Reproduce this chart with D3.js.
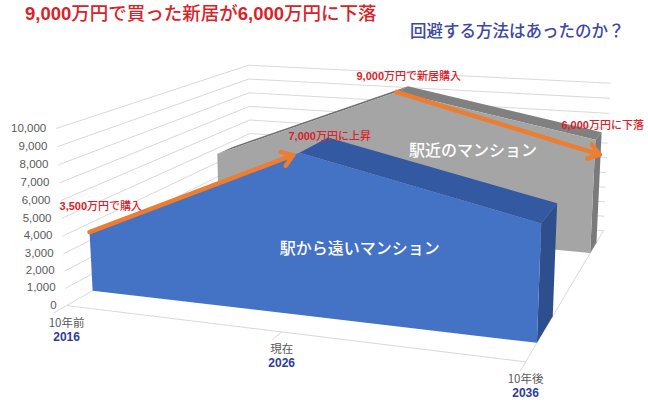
<!DOCTYPE html>
<html>
<head>
<meta charset="utf-8">
<script src="https://cdn.jsdelivr.net/npm/d3@7"></script>
<style>
  body { margin: 0; background: #fff; }
  svg { display: block; }
</style>
</head>
<body>
<script>
// data
var categories = ["10年前", "現在", "10年後"];
var years = ["2016", "2026", "2036"];
var farValues = [3500, 9000, 6300];    // 駅から遠いマンション
var nearValues = [4600, 9600, 7300];   // 駅近のマンション
var yTicks = d3.range(0, 10001, 1000);

var W = 648, H = 410;
var jp = "'Noto Sans CJK JP', sans-serif";
var num = "'Liberation Sans', Arial, sans-serif";

// world scales (box is 0..1 in every direction)
var x = d3.scalePoint().domain(categories).range([0, 1]);
var y = d3.scaleLinear().domain([0, 10000]).range([0, 1]);
var depth = { far: [0.11, 0.28], near: [0.78, 0.88] };

// camera: fit a projective map from the box corners as they sit in the picture
var calib = [
  [[0, 0, 0], [67, 304]],
  [[0.5, 0, 0], [283, 332]],
  [[1, 0, 0], [525, 363]],
  [[0, 0, 1], [250, 201]],
  [[1, 0, 1], [604, 230]],
  [[0, 1, 0], [55, 129]],
  [[0, 1, 1], [250, 65]],
  [[1, 1, 1], [610, 83]]
];

function gauss(M, r) {
  var n = r.length, A = M.map(function(row, i) { return row.concat([r[i]]); });
  for (var c = 0; c < n; c++) {
    var p = c;
    for (var i = c + 1; i < n; i++) if (Math.abs(A[i][c]) > Math.abs(A[p][c])) p = i;
    var t = A[c]; A[c] = A[p]; A[p] = t;
    for (var i = c + 1; i < n; i++) {
      var f = A[i][c] / A[c][c];
      for (var j = c; j <= n; j++) A[i][j] -= f * A[c][j];
    }
  }
  var s = new Array(n);
  for (var i = n - 1; i >= 0; i--) {
    var v = A[i][n];
    for (var j = i + 1; j < n; j++) v -= A[i][j] * s[j];
    s[i] = v / A[i][i];
  }
  return s;
}

function fitCamera(c) {
  var rows = [], rhs = [];
  c.forEach(function(d) {
    var X = d[0][0], Y = d[0][1], Z = d[0][2], u = d[1][0], v = d[1][1];
    rows.push([X, Y, Z, 1, 0, 0, 0, 0, -u * X, -u * Y, -u * Z]); rhs.push(u);
    rows.push([0, 0, 0, 0, X, Y, Z, 1, -v * X, -v * Y, -v * Z]); rhs.push(v);
  });
  var M = [], r = [];
  for (var i = 0; i < 11; i++) {
    M[i] = [];
    for (var j = 0; j < 11; j++) M[i][j] = d3.sum(rows, function(row) { return row[i] * row[j]; });
    r[i] = d3.sum(rows, function(row, k) { return row[i] * rhs[k]; });
  }
  return gauss(M, r);
}

var cam = fitCamera(calib);
function proj(X, Y, Z) {
  var w = cam[8] * X + cam[9] * Y + cam[10] * Z + 1;
  return [(cam[0] * X + cam[1] * Y + cam[2] * Z + cam[3]) / w,
          (cam[4] * X + cam[5] * Y + cam[6] * Z + cam[7]) / w];
}
// category, value, depth -> screen
function P(cat, val, zw) { return proj(typeof cat === "string" ? x(cat) : cat, y(val), zw); }

var line = d3.line();
function poly(pts) { return line(pts) + "Z"; }

var svg = d3.select("body").append("svg")
  .attr("width", W).attr("height", H);

// walls gridlines
var grid = svg.append("g").attr("fill", "none").attr("stroke", "#d9d9d9").attr("stroke-width", 1);
grid.selectAll("path.g")
  .data(yTicks)
  .enter().append("path")
  .attr("d", function(t) {
    return line([proj(0, y(t), 0), proj(0, y(t), 1), proj(1, y(t), 1)]);
  });

// floor edges + ticks
grid.append("path").attr("d", line([proj(0, 0, 0), proj(1, 0, 0), proj(1, 0, 1)]));
grid.selectAll("path.tick")
  .data(categories)
  .enter().append("path")
  .attr("d", function(c) { return line([proj(x(c), 0, 0), proj(x(c), 0, -0.05)]); });

// y labels
svg.append("g").selectAll("text")
  .data(yTicks)
  .enter().append("text")
  .attr("x", function(t) { return proj(0, y(t), 0)[0] - 10; })
  .attr("y", function(t) { return proj(0, y(t), 0)[1]; })
  .attr("text-anchor", "end")
  .attr("dominant-baseline", "middle")
  .style("font-family", num).style("font-size", "11.5px").style("fill", "#595959")
  .text(d3.format(","));

// category labels
var cl = svg.append("g").selectAll("g")
  .data(categories)
  .enter().append("g")
  .attr("transform", function(c) { var p = proj(x(c), 0, 0); return "translate(" + p[0] + "," + p[1] + ")"; });
cl.append("text")
  .attr("y", 18).attr("text-anchor", "middle").attr("dominant-baseline", "middle")
  .style("font-family", jp).style("font-size", "11.5px").style("fill", "#595959")
  .text(function(c) { return c; });
cl.append("text")
  .attr("y", 32).attr("text-anchor", "middle").attr("dominant-baseline", "middle")
  .style("font-family", num).style("font-size", "12px").style("font-weight", "bold").style("fill", "#2e3d98")
  .text(function(c, i) { return years[i]; });

// 3D area series
function drawSeries(vals, zr, col) {
  var g = svg.append("g");
  var z0 = zr[0], z1 = zr[1];
  var n = vals.length;
  for (var i = 0; i < n - 1; i++) {
    var c = vals[i + 1] > vals[i] ? col.topUp : col.topDown;
    if (!c) continue;
    g.append("path")
      .attr("d", poly([P(categories[i], vals[i], z0), P(categories[i + 1], vals[i + 1], z0),
                       P(categories[i + 1], vals[i + 1], z1), P(categories[i], vals[i], z1)]))
      .attr("fill", c);
  }
  var last = categories[n - 1];
  g.append("path")
    .attr("d", poly([P(last, 0, z0), P(last, vals[n - 1], z0), P(last, vals[n - 1], z1), P(last, 0, z1)]))
    .attr("fill", col.side);
  var front = [P(categories[0], 0, z0)]
    .concat(vals.map(function(v, i) { return P(categories[i], v, z0); }))
    .concat([P(last, 0, z0)]);
  g.append("path").attr("d", poly(front)).attr("fill", col.front);
  return g;
}

var gNear = drawSeries(nearValues, depth.near, { front: "#a5a5a5", topUp: "#6f6f6f", topDown: "#808080", side: "#7a7a7a" });
// the rising top of the front series sits under the arrow, so it is not drawn
var gFar = drawSeries(farValues, depth.far, { front: "#4472c4", topUp: null, topDown: "#3459a3", side: "#2d4f8e" });

// series names
function seriesLabel(txt, cx, val, zw, size) {
  var p = proj(cx, y(val), zw);
  svg.append("text")
    .attr("x", p[0]).attr("y", p[1])
    .attr("text-anchor", "middle").attr("dominant-baseline", "middle")
    .style("font-family", jp).style("font-size", size + "px").style("font-weight", 500).style("fill", "#fff")
    .text(txt);
}
seriesLabel("駅近のマンション", 0.7, 6000, depth.near[0], 16);
seriesLabel("駅から遠いマンション", 0.63, 4000, depth.far[0], 16);

// arrows
var orange = "#ed7d31";
function arrow(a, b) {
  var ang = Math.atan2(b[1] - a[1], b[0] - a[0]), L = 13, s = 0.6;
  var h1 = [b[0] - L * Math.cos(ang - s), b[1] - L * Math.sin(ang - s)];
  var h2 = [b[0] - L * Math.cos(ang + s), b[1] - L * Math.sin(ang + s)];
  var g = svg.append("g").attr("fill", "none").attr("stroke", orange)
    .attr("stroke-width", 4.5).attr("stroke-linecap", "round").attr("stroke-linejoin", "round");
  g.append("path").attr("d", line([a, b]));
  g.append("path").attr("d", line([h1, b, h2]));
}
var a1s = P(categories[0], farValues[0], depth.far[0]);
var a1e = P(categories[1], farValues[1], depth.far[0]);
arrow(a1s, d3.interpolate(a1s, a1e)(0.97));
var a2s = P(categories[1], nearValues[1], depth.near[0]);
var a2e = P(categories[2], nearValues[2] - 1200, (depth.near[0] + depth.near[1]) / 2);
arrow(a2s, [a2e[0] + 2, a2e[1]]);

// annotations
var red = "#dc2128";
function note(p, dx, dy, n, rest) {
  var t = svg.append("text")
    .attr("x", p[0] + dx).attr("y", p[1] + dy)
    .attr("dominant-baseline", "middle")
    .style("fill", red).style("font-size", "11px");
  t.append("tspan").style("font-family", num).style("font-weight", "bold").text(n);
  t.append("tspan").style("font-family", jp).style("font-weight", 500).text(rest);
}
note(P(categories[0], farValues[0], depth.far[0]), -30, -25, "3,500", "万円で購入");
note(P(categories[1], farValues[1], depth.far[0]), -11, -16, "7,000", "万円に上昇");
note(P(categories[1], nearValues[1], depth.near[0]), -40, -15, "9,000", "万円で新居購入");
note(P(categories[2], nearValues[2], depth.near[0]), -34, -14, "6,000", "万円に下落");

// titles
var title = svg.append("text").attr("x", 25).attr("y", 15)
  .attr("dominant-baseline", "middle").style("fill", red).style("font-size", "18.5px");
[["9,000", true], ["万円で買った新居が", false], ["6,000", true], ["万円に下落", false]].forEach(function(p) {
  title.append("tspan")
    .style("font-family", p[1] ? num : jp)
    .style("font-weight", p[1] ? "bold" : 500)
    .text(p[0]);
});
svg.append("text").attr("x", 410).attr("y", 33)
  .attr("dominant-baseline", "middle")
  .style("font-family", jp).style("font-size", "16.5px").style("font-weight", 500).style("fill", "#3c48a5")
  .text("回避する方法はあったのか？");
</script>
</body>
</html>
